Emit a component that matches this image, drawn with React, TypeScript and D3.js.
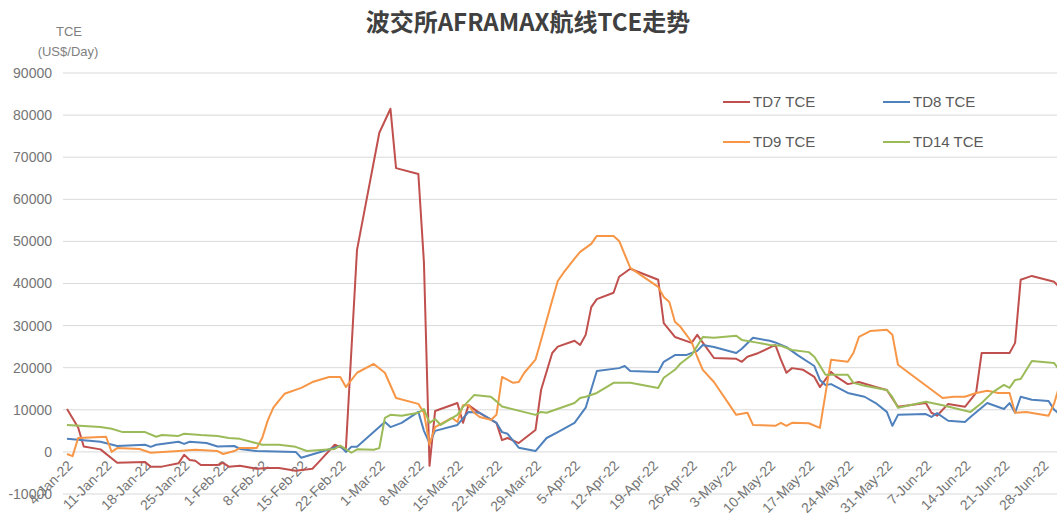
import React from "react";
import * as d3 from "d3";

type Pt = [string, number];

const seriesNames = ["TD7 TCE", "TD8 TCE", "TD9 TCE", "TD14 TCE"];
const seriesColors = ["#C0504D", "#4F81BD", "#F79646", "#9BBB59"];

const td7: Pt[] = [["2022-01-04",10200],["2022-01-06",5800],["2022-01-07",1300],["2022-01-10",600],["2022-01-13",-2600],["2022-01-18",-2400],["2022-01-19",-3500],["2022-01-21",-3500],["2022-01-24",-2700],["2022-01-25",-700],["2022-01-26",-1900],["2022-01-27",-2100],["2022-01-28",-3100],["2022-01-31",-3100],["2022-02-01",-2600],["2022-02-02",-3500],["2022-02-04",-3300],["2022-02-07",-4000],["2022-02-09",-3800],["2022-02-11",-3800],["2022-02-14",-4500],["2022-02-17",-4000],["2022-02-18",-2600],["2022-02-21",1700],["2022-02-23",600],["2022-02-25",48000],["2022-03-01",75800],["2022-03-03",81500],["2022-03-04",67400],["2022-03-08",66000],["2022-03-09",45000],["2022-03-10",-3300],["2022-03-11",9700],["2022-03-15",11600],["2022-03-16",6900],["2022-03-17",11100],["2022-03-19",9200],["2022-03-22",6900],["2022-03-23",2800],["2022-03-24",3300],["2022-03-26",2100],["2022-03-29",5200],["2022-03-30",14700],["2022-04-01",23500],["2022-04-02",25000],["2022-04-05",26400],["2022-04-06",25400],["2022-04-07",27800],["2022-04-08",34400],["2022-04-09",36300],["2022-04-12",37800],["2022-04-13",41600],["2022-04-15",43500],["2022-04-20",40900],["2022-04-21",30600],["2022-04-23",27300],["2022-04-26",25900],["2022-04-27",27800],["2022-04-30",22300],["2022-05-04",22100],["2022-05-05",21400],["2022-05-06",22600],["2022-05-08",23500],["2022-05-11",25400],["2022-05-12",21900],["2022-05-13",18800],["2022-05-14",19900],["2022-05-16",19500],["2022-05-18",17800],["2022-05-19",15400],["2022-05-21",19000],["2022-05-22",17800],["2022-05-24",16100],["2022-05-26",16600],["2022-05-29",15400],["2022-05-31",14700],["2022-06-02",10700],["2022-06-07",11600],["2022-06-08",9300],["2022-06-09",8600],["2022-06-11",11400],["2022-06-14",10700],["2022-06-16",14000],["2022-06-17",23500],["2022-06-22",23500],["2022-06-23",25900],["2022-06-24",40900],["2022-06-26",41800],["2022-06-30",40400],["2022-07-01",39000]];

const td8: Pt[] = [["2022-01-04",3100],["2022-01-10",2400],["2022-01-13",1400],["2022-01-18",1700],["2022-01-19",1200],["2022-01-20",1700],["2022-01-24",2400],["2022-01-25",1900],["2022-01-26",2400],["2022-01-29",2100],["2022-01-31",1300],["2022-02-03",1400],["2022-02-04",700],["2022-02-07",200],["2022-02-14",0],["2022-02-15",-1400],["2022-02-22",1400],["2022-02-23",0],["2022-02-24",1200],["2022-02-25",1200],["2022-03-02",7100],["2022-03-03",5900],["2022-03-05",6900],["2022-03-08",9500],["2022-03-09",5000],["2022-03-10",2100],["2022-03-11",5000],["2022-03-15",6400],["2022-03-17",9500],["2022-03-19",9300],["2022-03-22",6900],["2022-03-23",4700],["2022-03-24",4300],["2022-03-26",1000],["2022-03-29",200],["2022-03-31",3300],["2022-04-02",4700],["2022-04-05",6900],["2022-04-07",10500],["2022-04-09",19200],["2022-04-13",19900],["2022-04-14",20400],["2022-04-15",19200],["2022-04-20",19000],["2022-04-21",21400],["2022-04-23",23000],["2022-04-25",23000],["2022-04-27",24000],["2022-04-28",25400],["2022-04-30",24900],["2022-05-04",23500],["2022-05-05",24500],["2022-05-07",27100],["2022-05-10",26400],["2022-05-11",26000],["2022-05-13",24900],["2022-05-15",23000],["2022-05-18",20400],["2022-05-19",17100],["2022-05-20",15900],["2022-05-21",16100],["2022-05-24",14000],["2022-05-27",13100],["2022-05-29",11600],["2022-05-31",9500],["2022-06-01",6200],["2022-06-02",8800],["2022-06-07",9000],["2022-06-08",8300],["2022-06-09",9200],["2022-06-11",7400],["2022-06-14",7100],["2022-06-15",8300],["2022-06-18",11600],["2022-06-21",10200],["2022-06-22",11600],["2022-06-23",9300],["2022-06-24",13100],["2022-06-26",12400],["2022-06-29",12100],["2022-06-30",10000],["2022-07-01",9000]];

const td9: Pt[] = [["2022-01-04",-500],["2022-01-05",-1000],["2022-01-06",3300],["2022-01-11",3600],["2022-01-12",0],["2022-01-13",900],["2022-01-17",700],["2022-01-19",-200],["2022-01-24",200],["2022-01-27",500],["2022-01-31",200],["2022-02-01",-500],["2022-02-03",200],["2022-02-04",900],["2022-02-07",900],["2022-02-08",3300],["2022-02-09",7500],["2022-02-10",10500],["2022-02-11",12200],["2022-02-12",13800],["2022-02-15",15200],["2022-02-17",16600],["2022-02-20",17800],["2022-02-22",17800],["2022-02-23",15400],["2022-02-25",18800],["2022-02-28",20900],["2022-03-02",18800],["2022-03-04",12800],["2022-03-08",11400],["2022-03-09",9300],["2022-03-10",1700],["2022-03-11",5900],["2022-03-14",8100],["2022-03-15",7100],["2022-03-16",11100],["2022-03-17",11100],["2022-03-18",9300],["2022-03-19",8300],["2022-03-21",7600],["2022-03-22",8800],["2022-03-23",17800],["2022-03-25",16400],["2022-03-26",16600],["2022-03-27",18800],["2022-03-29",21900],["2022-03-30",26500],["2022-04-01",36000],["2022-04-02",40600],["2022-04-03",42500],["2022-04-05",45900],["2022-04-06",47500],["2022-04-08",49400],["2022-04-09",51300],["2022-04-12",51300],["2022-04-13",50100],["2022-04-15",43700],["2022-04-20",39200],["2022-04-21",36800],["2022-04-22",35600],["2022-04-23",30900],["2022-04-24",29700],["2022-04-26",26100],["2022-04-27",22600],["2022-04-28",19500],["2022-04-30",16600],["2022-05-04",8800],["2022-05-06",9300],["2022-05-07",6400],["2022-05-11",6200],["2022-05-12",6900],["2022-05-13",6200],["2022-05-14",6900],["2022-05-17",6800],["2022-05-19",5700],["2022-05-21",21900],["2022-05-24",21400],["2022-05-25",23500],["2022-05-26",27300],["2022-05-28",28700],["2022-05-31",29000],["2022-06-01",27800],["2022-06-02",20700],["2022-06-10",12800],["2022-06-12",13100],["2022-06-14",13100],["2022-06-16",14000],["2022-06-18",14500],["2022-06-20",14000],["2022-06-22",14000],["2022-06-23",9300],["2022-06-25",9500],["2022-06-29",8600],["2022-06-30",11500],["2022-07-01",16000]];

const td14: Pt[] = [["2022-01-04",6400],["2022-01-10",5900],["2022-01-12",5500],["2022-01-14",4700],["2022-01-18",4700],["2022-01-20",3600],["2022-01-21",4000],["2022-01-24",3800],["2022-01-25",4300],["2022-01-28",4000],["2022-01-31",3800],["2022-02-02",3300],["2022-02-04",3100],["2022-02-08",1700],["2022-02-11",1700],["2022-02-14",1200],["2022-02-16",200],["2022-02-21",700],["2022-02-22",1500],["2022-02-24",-200],["2022-02-25",600],["2022-02-28",500],["2022-03-01",900],["2022-03-02",8100],["2022-03-03",8800],["2022-03-05",8600],["2022-03-08",9300],["2022-03-09",10200],["2022-03-10",6900],["2022-03-11",7800],["2022-03-12",6400],["2022-03-15",8800],["2022-03-16",10700],["2022-03-18",13500],["2022-03-21",13100],["2022-03-22",12000],["2022-03-23",10800],["2022-03-29",8800],["2022-03-30",9500],["2022-03-31",9300],["2022-04-05",11600],["2022-04-06",12800],["2022-04-07",13100],["2022-04-09",14000],["2022-04-12",16400],["2022-04-15",16400],["2022-04-20",15200],["2022-04-21",17600],["2022-04-23",19500],["2022-04-24",21000],["2022-04-26",23000],["2022-04-28",27300],["2022-04-30",27100],["2022-05-04",27600],["2022-05-05",26600],["2022-05-08",25900],["2022-05-10",25400],["2022-05-12",25200],["2022-05-14",24200],["2022-05-17",23700],["2022-05-18",22600],["2022-05-19",20500],["2022-05-20",18300],["2022-05-24",18300],["2022-05-25",16400],["2022-05-27",15700],["2022-05-31",14700],["2022-06-01",13000],["2022-06-02",10500],["2022-06-07",11900],["2022-06-10",11100],["2022-06-15",9500],["2022-06-17",11600],["2022-06-19",14200],["2022-06-21",15900],["2022-06-22",15200],["2022-06-23",17100],["2022-06-24",17300],["2022-06-26",21600],["2022-06-30",21100],["2022-07-01",19300]];

const allSeries = [td7, td8, td9, td14];
const yTicks = [-10000, 0, 10000, 20000, 30000, 40000, 50000, 60000, 70000, 80000, 90000];
const xStart = "2022-01-04";
const xEnd = "2022-06-28";

const W = 1057;
const H = 515;
const FONT = "'Liberation Sans', Arial, sans-serif";

export default function App() {
  const parse = d3.timeParse("%Y-%m-%d");
  const fmt = d3.timeFormat("%-d-%b-%y");
  const x = d3.scaleTime().domain([parse(xStart)!, parse(xEnd)!]).range([67, 1043]);
  const y = d3.scaleLinear().domain([-10000, 90000]).range([494, 73]);
  const xTicks = d3.timeDay.range(parse(xStart)!, d3.timeDay.offset(parse(xEnd)!, 1), 7);
  const line = d3
    .line<Pt>()
    .x((d) => x(parse(d[0])!))
    .y((d) => y(d[1]));

  const legendPos = [
    [723, 102],
    [883, 102],
    [723, 142],
    [883, 142],
  ];

  return (
    <svg
      width={W}
      height={H}
      style={{ position: "absolute", left: 0, top: 0, background: "#fff" }}
    >
      <rect x={0} y={0} width={W} height={H} fill="#fff" />
      <text
        x={528}
        y={31}
        textAnchor="middle"
        fontSize={24}
        fontWeight="bold"
        fill="#404040"
        fontFamily="'Noto Sans CJK SC', sans-serif"
      >
        波交所AFRAMAX航线TCE走势
      </text>
      <text x={69} y={36} textAnchor="middle" fontSize={13} fill="#7f7f7f" fontFamily={FONT}>
        TCE
      </text>
      <text x={68} y={56} textAnchor="middle" fontSize={13} fill="#7f7f7f" fontFamily={FONT}>
        (US$/Day)
      </text>
      {yTicks.map((t) => (
        <g key={t}>
          <line x1={63} x2={W} y1={y(t)} y2={y(t)} stroke="#d9d9d9" strokeWidth={1} />
          <text
            x={52}
            y={y(t)}
            dy="0.35em"
            textAnchor="end"
            fontSize={14}
            fill="#757575"
            fontFamily={FONT}
          >
            {t}
          </text>
        </g>
      ))}
      {xTicks.map((t) => (
        <text
          key={+t}
          transform={`translate(${x(t) + 3},${463}) rotate(-45)`}
          dy="0.35em"
          textAnchor="end"
          fontSize={14}
          fill="#757575"
          fontFamily={FONT}
        >
          {fmt(t)}
        </text>
      ))}
      {allSeries.map((s, i) => (
        <path
          key={i}
          d={line(s) || ""}
          fill="none"
          stroke={seriesColors[i]}
          strokeWidth={2}
          strokeLinejoin="round"
        />
      ))}
      {seriesNames.map((n, i) => (
        <g key={n}>
          <line
            x1={legendPos[i][0]}
            x2={legendPos[i][0] + 27}
            y1={legendPos[i][1]}
            y2={legendPos[i][1]}
            stroke={seriesColors[i]}
            strokeWidth={2}
          />
          <text
            x={legendPos[i][0] + 30}
            y={legendPos[i][1]}
            dy="0.35em"
            fontSize={15}
            fill="#595959"
            fontFamily={FONT}
          >
            {n}
          </text>
        </g>
      ))}
    </svg>
  );
}
